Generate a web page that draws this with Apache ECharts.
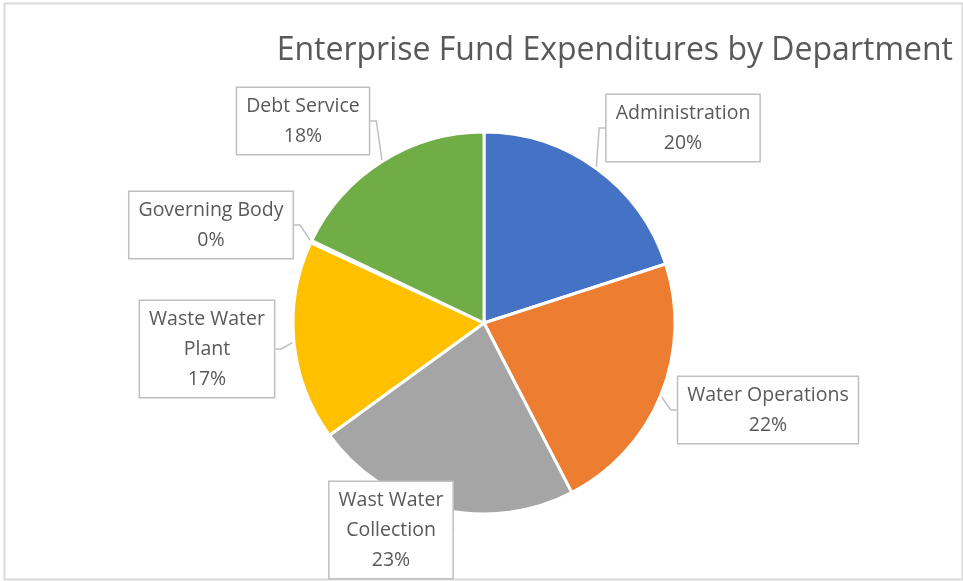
<!DOCTYPE html>
<html>
<head>
<meta charset="utf-8">
<script src="https://cdn.jsdelivr.net/npm/echarts@6/dist/echarts.min.js"></script>
<style>
  html, body { margin: 0; padding: 0; background: #ffffff; }
  #chart { width: 963px; height: 581px; }
</style>
</head>
<body>
<div id="chart"></div>
<script>
// Departments, clockwise from twelve o'clock
const departments = [
  'Administration',
  'Water Operations',
  'Wast Water Collection',
  'Waste Water Plant',
  'Governing Body',
  'Debt Service'
];
// Share of expenditures (percent of total)
const expenditures = [20.0, 22.4, 22.6, 16.9, 0.2, 17.9];
// How each department name wraps inside its callout
const labelNames = [
  'Administration',
  'Water Operations',
  'Wast Water\nCollection',
  'Waste Water\nPlant',
  'Governing Body',
  'Debt Service'
];
const sliceColors = ['#4472C4', '#ED7D31', '#A5A5A5', '#FFC000', '#5B9BD5', '#70AD47'];
// Callout centres, in pixels
const calloutCenters = [
  [683, 128],
  [768, 410],
  [391, 530],
  [207, 349],
  [211, 225],
  [303, 121]
];

const chart = echarts.init(document.getElementById('chart'), null, { renderer: 'canvas' });

chart.setOption({
  backgroundColor: '#ffffff',
  animation: false,
  title: {
    text: 'Enterprise Fund Expenditures by Department',
    right: 5,
    top: 30,
    textStyle: {
      fontFamily: 'Open Sans',
      fontSize: 32,
      fontWeight: 'normal',
      color: '#595959'
    }
  },
  graphic: [{
    type: 'rect',
    left: 2,
    top: 1,
    shape: { width: 958, height: 576 },
    style: { fill: 'none', stroke: '#d9d9d9', lineWidth: 2 },
    silent: true
  }],
  series: [{
    type: 'pie',
    center: [484, 323],
    radius: 191,
    startAngle: 90,
    clockwise: true,
    avoidLabelOverlap: false,
    itemStyle: { borderColor: '#ffffff', borderWidth: 3 },
    data: departments.map((name, i) => ({
      name: name,
      value: expenditures[i],
      itemStyle: { color: sliceColors[i] }
    })),
    label: {
      show: true,
      position: 'outside',
      formatter: p => labelNames[p.dataIndex] + '\n' + Math.round(p.percent) + '%',
      fontFamily: 'Open Sans',
      fontSize: 19.5,
      lineHeight: 30,
      color: '#595959',
      align: 'center',
      backgroundColor: '#ffffff',
      borderColor: '#bfbfbf',
      borderWidth: 1.5,
      padding: [3, 9, 3, 9]
    },
    labelLine: {
      show: true,
      length: 8,
      length2: 6,
      lineStyle: { color: '#bfbfbf', width: 1.5 }
    },
    labelLayout: p => ({
      x: calloutCenters[p.dataIndex][0],
      y: calloutCenters[p.dataIndex][1],
      align: 'center',
      verticalAlign: 'middle'
    })
  }]
});
</script>
</body>
</html>
